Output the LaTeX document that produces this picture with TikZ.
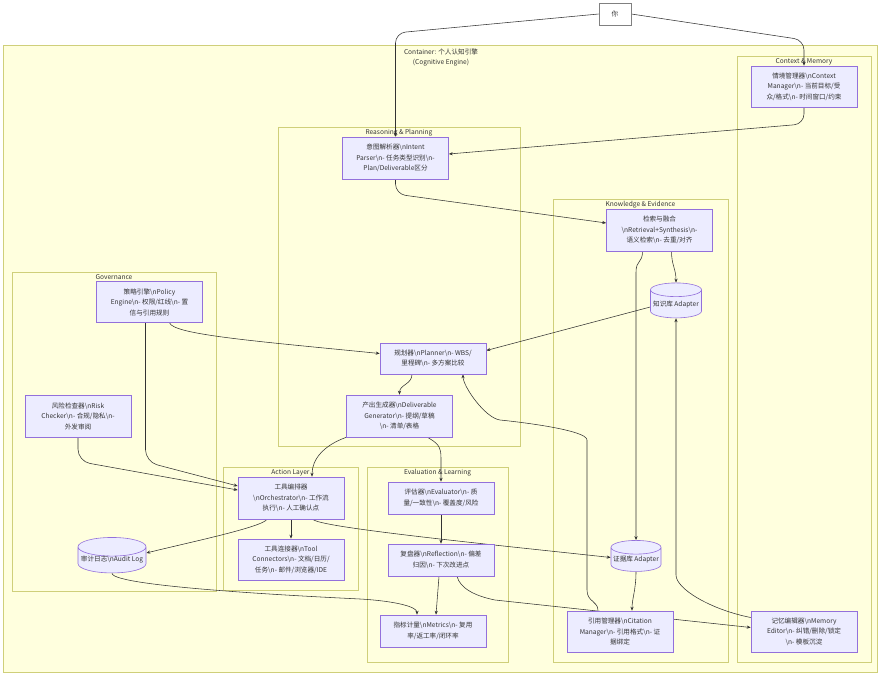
\documentclass[tikz,border=0pt]{standalone}
\usepackage{fontspec}
\setmainfont{Noto Sans CJK SC}
\usetikzlibrary{arrows.meta,shapes.geometric}
\definecolor{nodefill}{HTML}{ECECFF}
\definecolor{nodeline}{HTML}{9370DB}
\definecolor{grpfill}{HTML}{FFFFDE}
\definecolor{grpline}{HTML}{CFCF7A}
\definecolor{ink}{HTML}{333333}
\newcommand{\bsn}{\textbackslash n}
\pgfdeclarelayer{bg}
\pgfdeclarelayer{links}
\pgfsetlayers{bg,links,main}
\tikzset{
  box/.style={draw=nodeline, fill=nodefill, line width=0.6pt, align=center, text=ink,
    font=\fontsize{6.6}{10.5}\selectfont, inner sep=0pt, minimum width=106pt, minimum height=42pt},
  store/.style={cylinder, shape border rotate=90, aspect=0.3, draw=nodeline, fill=nodefill,
    line width=0.6pt, text=ink, font=\fontsize{6.6}{10.5}\selectfont, inner sep=0pt},
  grp/.style={draw=grpline, fill=grpfill, line width=0.7pt},
  grplabel/.style={text=ink, font=\fontsize{6.6}{10}\selectfont, anchor=north, align=center},
  link/.style={draw=ink, line width=0.55pt, -{Stealth[length=4pt,width=3.2pt]}}
}
\begin{document}
\begin{tikzpicture}[x=1pt,y=-1pt]
  \useasboundingbox (0,0) rectangle (882,676);
  \begin{pgfonlayer}{bg}
    \fill[white] (0,0) rectangle (882,676);
    \draw[grp] (3,45) rectangle (877,672);
    \node[grplabel] (lcontainer) at (441,45) {Container: 个人认知引擎\\(Cognitive Engine)};
    \draw[grp] (737,56) rectangle (871,662);
    \node[grplabel] (lcontext) at (804,55) {Context \& Memory};
    \draw[grp] (278,127) rectangle (520,446);
    \node[grplabel] (lreason) at (399,126) {Reasoning \& Planning};
    \draw[grp] (553,199) rectangle (728,662);
    \node[grplabel] (lknow) at (640.5,198) {Knowledge \& Evidence};
    \draw[grp] (12,272) rectangle (216,591);
    \node[grplabel] (lgov) at (114,271) {Governance};
    \draw[grp] (223,467) rectangle (358,590);
    \node[grplabel] (laction) at (290.5,466) {Action Layer};
    \draw[grp] (367,467) rectangle (508,662);
    \node[grplabel] (leval) at (437.5,466) {Evaluation \& Learning};
  \end{pgfonlayer}

  \node[box, fill=white, draw=gray, minimum width=32pt, minimum height=22pt] (you) at (615,14) {你};
  \node[box, minimum height=41pt] (ctx) at (804,86.5) {情境管理器\bsn Context\\Manager\bsn- 当前目标/受\\众/格式\bsn- 时间窗口/约束};
  \node[box] (intent) at (395.5,158) {意图解析器\bsn Intent\\Parser\bsn- 任务类型识别\bsn-\\Plan/Deliverable区分};
  \node[box] (retrieval) at (659.5,230) {检索与融合\\\bsn Retrieval+Synthesis\bsn-\\语义检索\bsn- 去重/对齐};
  \node[store, minimum width=51pt, minimum height=35pt] (kb) at (676,304) {知识库 Adapter};
  \node[box, minimum height=41pt] (policy) at (149.5,302) {策略引擎\bsn Policy\\Engine\bsn- 权限/红线\bsn- 置\\信与引用规则};
  \node[box] (risk) at (78,416) {风险检查器\bsn Risk\\Checker\bsn- 合规/隐私\bsn-\\外发审阅};
  \node[box, minimum height=31pt] (planner) at (433,358.5) {规划器\bsn Planner\bsn- WBS/\\里程碑\bsn- 多方案比较};
  \node[box] (deliverable) at (399.5,416) {产出生成器\bsn Deliverable\\Generator\bsn- 提纲/草稿\\\bsn- 清单/表格};
  \node[box] (orch) at (291,498) {工具编排器\\\bsn Orchestrator\bsn- 工作流\\执行\bsn- 人工确认点};
  \node[box, minimum height=41pt] (tools) at (291,559.5) {工具连接器\bsn Tool\\Connectors\bsn- 文档/日历/\\任务\bsn- 邮件/浏览器/IDE};
  \node[box, minimum height=32pt] (evaluator) at (441,498) {评估器\bsn Evaluator\bsn- 质\\量/一致性\bsn- 覆盖度/风险};
  \node[box, minimum height=32pt] (reflection) at (441,560) {复盘器\bsn Reflection\bsn- 偏差\\归因\bsn- 下次改进点};
  \node[box, minimum height=32pt] (metrics) at (433,631) {指标计量\bsn Metrics\bsn- 复用\\率/返工率/闭环率};
  \node[store, minimum width=68pt, minimum height=34pt] (audit) at (112,560) {审计日志\bsn Audit Log};
  \node[store, minimum width=50pt, minimum height=31pt] (evidence) at (636,559.5) {证据库 Adapter};
  \node[box, minimum height=41pt] (citation) at (620,631.5) {引用管理器\bsn Citation\\Manager\bsn- 引用格式\bsn- 证\\据绑定};
  \node[box, minimum height=41pt] (memory) at (804,631.5) {记忆编辑器\bsn Memory\\Editor\bsn- 纠错/删除/锁定\\\bsn- 模板沉淀};

  \begin{pgfonlayer}{links}
    \draw[link, rounded corners=10pt] (you.west) -- (intent.north |- 0,33) -- (intent.north);
    \draw[link, rounded corners=10pt] (you.east) -- (ctx.north |- 0,40) -- (ctx.north);
    \draw[link, rounded corners=10pt] (ctx.south) -- (ctx.south |- 0,124) -- ([yshift=4pt]intent.east);
    \draw[link, rounded corners=10pt] (intent.south) -- (intent.south |- 0,194) -- ([yshift=7pt]retrieval.west);
    \draw[link] ([xshift=12pt]retrieval.south) .. controls +(0,14) and +(0,-14) .. (kb.north);
    \draw[link] ([xshift=-17pt]retrieval.south) .. controls +(0,12) and +(0,-12) .. (evidence.north |- 0,272) -- (evidence.north);
    \draw[link] ([yshift=-3pt]kb.west) -- ([yshift=8pt]planner.east);
    \draw[link] ([xshift=20pt]policy.south) .. controls +(4,12) and +(-120,-12) .. ([yshift=5pt]planner.west);
    \draw[link] ([xshift=-21pt]planner.south) .. controls +(0,10) and +(0,-10) .. (deliverable.north);
    \draw[link] (deliverable.south west) .. controls +(-22,8) and +(0,-18) .. ([xshift=21pt]orch.north);
    \draw[link] ([xshift=28pt]deliverable.south) .. controls +(10,6) and +(0,-12) .. (evaluator.north |- 0,458) -- (evaluator.north);
    \draw[link, rounded corners=12pt] ([xshift=-4pt]policy.south) -- ++(0,139) -- ([yshift=12pt]orch.west);
    \draw[link, rounded corners=12pt] (risk.south) -- ++(0,24) -- ([yshift=8pt]orch.west);
    \draw[link] (orch) -- (tools);
    \draw[link] ([xshift=-24pt]orch.south) .. controls +(-5,8) and +(40,-10) .. ([yshift=7pt]audit.east);
    \draw[link] ([xshift=22pt]orch.south) .. controls +(5,8) and +(-120,-13) .. ([yshift=2pt]evidence.west);
    \draw[link] (evaluator) -- (reflection);
    \draw[link] ([xshift=-2pt]reflection.south) -- ([xshift=3pt]metrics.north);
    \draw[link] (audit.south) .. controls +(0,14) and +(-40,-2) .. (360,599) .. controls +(35,2) and +(0,-8) .. ([xshift=-16pt]metrics.north);
    \draw[link] ([xshift=16pt]reflection.south) .. controls +(3,12) and +(-20,-4) .. (495,600) -- ([yshift=4pt]memory.west);
    \draw[link] ([xshift=-22pt]citation.north) .. controls +(0,-10) and +(0,12) .. (587,590) -- (587,440)
      .. controls +(0,-10) and +(20,2) .. (500,420) .. controls +(-15,-2) and +(0,12) .. ([xshift=30pt]planner.south);
    \draw[link] (evidence.south) .. controls +(0,18) and +(0,-12) .. ([xshift=12pt]citation.north);
    \draw[link] ([yshift=14pt]memory.west) .. controls +(-40,-8) and +(0,14) .. (kb.south |- 0,575) -- (kb.south);
  \end{pgfonlayer}
\end{tikzpicture}
\end{document}
